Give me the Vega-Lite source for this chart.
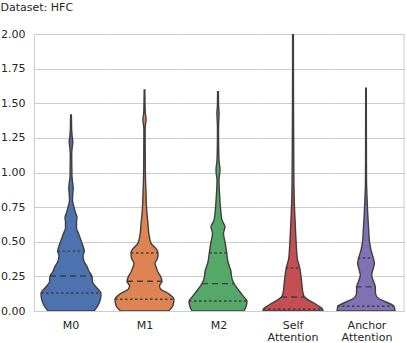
{
  "$schema": "https://vega.github.io/schema/vega-lite/v6.json",
  "padding": {"left": 0, "top": 2, "right": 0, "bottom": 0},
  "bounds": "flush",
  "title": {"text": "Dataset: HFC", "anchor": "start", "fontSize": 11, "fontWeight": "normal", "color": "#262626", "font": "DejaVu Sans", "offset": 15},
  "config": {
    "view": {"stroke": null},
    "font": "DejaVu Sans",
    "axis": {"labelFont": "DejaVu Sans", "labelFontSize": 11, "labelColor": "#262626", "gridColor": "#cccccc", "domainColor": "#cccccc", "ticks": false, "labelOverlap": false},
    "axisY": {"values": [0, 0.25, 0.5, 0.75, 1, 1.25, 1.5, 1.75, 2], "format": ".2f", "labelPadding": 9, "title": null, "labelOverlap": false, "grid": true}
  },
  "data": {"values": [
    {"model": "M0", "kind": "kde", "value": 0.00, "density": 23},
    {"model": "M0", "kind": "kde", "value": 0.04, "density": 27},
    {"model": "M0", "kind": "kde", "value": 0.09, "density": 29.5},
    {"model": "M0", "kind": "kde", "value": 0.13, "density": 30},
    {"model": "M0", "kind": "kde", "value": 0.17, "density": 25.5},
    {"model": "M0", "kind": "kde", "value": 0.21, "density": 21.5},
    {"model": "M0", "kind": "kde", "value": 0.25, "density": 21},
    {"model": "M0", "kind": "kde", "value": 0.28, "density": 18.5},
    {"model": "M0", "kind": "kde", "value": 0.32, "density": 16},
    {"model": "M0", "kind": "kde", "value": 0.36, "density": 13},
    {"model": "M0", "kind": "kde", "value": 0.40, "density": 12},
    {"model": "M0", "kind": "kde", "value": 0.43, "density": 13.3},
    {"model": "M0", "kind": "kde", "value": 0.47, "density": 12},
    {"model": "M0", "kind": "kde", "value": 0.51, "density": 10},
    {"model": "M0", "kind": "kde", "value": 0.56, "density": 7.5},
    {"model": "M0", "kind": "kde", "value": 0.60, "density": 5.5},
    {"model": "M0", "kind": "kde", "value": 0.64, "density": 5.5},
    {"model": "M0", "kind": "kde", "value": 0.675, "density": 6},
    {"model": "M0", "kind": "kde", "value": 0.71, "density": 4.5},
    {"model": "M0", "kind": "kde", "value": 0.75, "density": 3},
    {"model": "M0", "kind": "kde", "value": 0.80, "density": 1.5},
    {"model": "M0", "kind": "kde", "value": 0.85, "density": 1.8},
    {"model": "M0", "kind": "kde", "value": 0.88, "density": 2.2},
    {"model": "M0", "kind": "kde", "value": 0.92, "density": 1.8},
    {"model": "M0", "kind": "kde", "value": 0.97, "density": 1.0},
    {"model": "M0", "kind": "kde", "value": 1.05, "density": 0.8},
    {"model": "M0", "kind": "kde", "value": 1.13, "density": 0.7},
    {"model": "M0", "kind": "kde", "value": 1.18, "density": 1.2},
    {"model": "M0", "kind": "kde", "value": 1.22, "density": 1.8},
    {"model": "M0", "kind": "kde", "value": 1.26, "density": 1.2},
    {"model": "M0", "kind": "kde", "value": 1.32, "density": 0.6},
    {"model": "M0", "kind": "kde", "value": 1.38, "density": 0.5},
    {"model": "M0", "kind": "kde", "value": 1.415, "density": 0.3},
    {"model": "M0", "kind": "q1", "value": 0.13, "density": 30},
    {"model": "M0", "kind": "q2", "value": 0.253, "density": 21},
    {"model": "M0", "kind": "q3", "value": 0.432, "density": 13.3},

    {"model": "M1", "kind": "kde", "value": 0.00, "density": 24},
    {"model": "M1", "kind": "kde", "value": 0.04, "density": 28.5},
    {"model": "M1", "kind": "kde", "value": 0.085, "density": 29.5},
    {"model": "M1", "kind": "kde", "value": 0.12, "density": 25},
    {"model": "M1", "kind": "kde", "value": 0.16, "density": 16},
    {"model": "M1", "kind": "kde", "value": 0.18, "density": 15},
    {"model": "M1", "kind": "kde", "value": 0.215, "density": 17.5},
    {"model": "M1", "kind": "kde", "value": 0.25, "density": 16},
    {"model": "M1", "kind": "kde", "value": 0.28, "density": 13.5},
    {"model": "M1", "kind": "kde", "value": 0.32, "density": 11.5},
    {"model": "M1", "kind": "kde", "value": 0.345, "density": 10.5},
    {"model": "M1", "kind": "kde", "value": 0.38, "density": 13},
    {"model": "M1", "kind": "kde", "value": 0.42, "density": 13.5},
    {"model": "M1", "kind": "kde", "value": 0.45, "density": 11.5},
    {"model": "M1", "kind": "kde", "value": 0.49, "density": 6.5},
    {"model": "M1", "kind": "kde", "value": 0.56, "density": 4.3},
    {"model": "M1", "kind": "kde", "value": 0.63, "density": 3.5},
    {"model": "M1", "kind": "kde", "value": 0.70, "density": 2.5},
    {"model": "M1", "kind": "kde", "value": 0.75, "density": 2.0},
    {"model": "M1", "kind": "kde", "value": 0.85, "density": 1.5},
    {"model": "M1", "kind": "kde", "value": 0.95, "density": 1.0},
    {"model": "M1", "kind": "kde", "value": 1.05, "density": 0.8},
    {"model": "M1", "kind": "kde", "value": 1.19, "density": 0.7},
    {"model": "M1", "kind": "kde", "value": 1.30, "density": 0.6},
    {"model": "M1", "kind": "kde", "value": 1.34, "density": 0.9},
    {"model": "M1", "kind": "kde", "value": 1.384, "density": 1.6},
    {"model": "M1", "kind": "kde", "value": 1.43, "density": 0.8},
    {"model": "M1", "kind": "kde", "value": 1.50, "density": 0.5},
    {"model": "M1", "kind": "kde", "value": 1.596, "density": 0.3},
    {"model": "M1", "kind": "q1", "value": 0.085, "density": 29.5},
    {"model": "M1", "kind": "q2", "value": 0.215, "density": 17.5},
    {"model": "M1", "kind": "q3", "value": 0.419, "density": 13.5},

    {"model": "M2", "kind": "kde", "value": 0.00, "density": 26},
    {"model": "M2", "kind": "kde", "value": 0.03, "density": 28},
    {"model": "M2", "kind": "kde", "value": 0.072, "density": 29},
    {"model": "M2", "kind": "kde", "value": 0.10, "density": 26},
    {"model": "M2", "kind": "kde", "value": 0.15, "density": 20.7},
    {"model": "M2", "kind": "kde", "value": 0.198, "density": 16},
    {"model": "M2", "kind": "kde", "value": 0.234, "density": 14},
    {"model": "M2", "kind": "kde", "value": 0.294, "density": 12.7},
    {"model": "M2", "kind": "kde", "value": 0.354, "density": 10},
    {"model": "M2", "kind": "kde", "value": 0.419, "density": 8.7},
    {"model": "M2", "kind": "kde", "value": 0.487, "density": 7.3},
    {"model": "M2", "kind": "kde", "value": 0.56, "density": 5.5},
    {"model": "M2", "kind": "kde", "value": 0.608, "density": 7},
    {"model": "M2", "kind": "kde", "value": 0.656, "density": 4},
    {"model": "M2", "kind": "kde", "value": 0.728, "density": 2.7},
    {"model": "M2", "kind": "kde", "value": 0.824, "density": 1.7},
    {"model": "M2", "kind": "kde", "value": 0.945, "density": 1},
    {"model": "M2", "kind": "kde", "value": 1.017, "density": 2},
    {"model": "M2", "kind": "kde", "value": 1.09, "density": 1},
    {"model": "M2", "kind": "kde", "value": 1.20, "density": 0.6},
    {"model": "M2", "kind": "kde", "value": 1.31, "density": 0.5},
    {"model": "M2", "kind": "kde", "value": 1.38, "density": 0.8},
    {"model": "M2", "kind": "kde", "value": 1.427, "density": 1.1},
    {"model": "M2", "kind": "kde", "value": 1.48, "density": 0.6},
    {"model": "M2", "kind": "kde", "value": 1.584, "density": 0.4},
    {"model": "M2", "kind": "q1", "value": 0.072, "density": 29},
    {"model": "M2", "kind": "q2", "value": 0.198, "density": 16},
    {"model": "M2", "kind": "q3", "value": 0.419, "density": 8.7},

    {"model": "Self Attention", "kind": "kde", "value": 0.00, "density": 30},
    {"model": "Self Attention", "kind": "kde", "value": 0.013, "density": 29.5},
    {"model": "Self Attention", "kind": "kde", "value": 0.03, "density": 27},
    {"model": "Self Attention", "kind": "kde", "value": 0.053, "density": 22},
    {"model": "Self Attention", "kind": "kde", "value": 0.077, "density": 16},
    {"model": "Self Attention", "kind": "kde", "value": 0.101, "density": 11.5},
    {"model": "Self Attention", "kind": "kde", "value": 0.13, "density": 10},
    {"model": "Self Attention", "kind": "kde", "value": 0.162, "density": 9.3},
    {"model": "Self Attention", "kind": "kde", "value": 0.234, "density": 8.3},
    {"model": "Self Attention", "kind": "kde", "value": 0.311, "density": 6.7},
    {"model": "Self Attention", "kind": "kde", "value": 0.379, "density": 4.3},
    {"model": "Self Attention", "kind": "kde", "value": 0.475, "density": 3.3},
    {"model": "Self Attention", "kind": "kde", "value": 0.62, "density": 2.3},
    {"model": "Self Attention", "kind": "kde", "value": 0.788, "density": 1.3},
    {"model": "Self Attention", "kind": "kde", "value": 0.95, "density": 0.9},
    {"model": "Self Attention", "kind": "kde", "value": 1.2, "density": 0.7},
    {"model": "Self Attention", "kind": "kde", "value": 1.5, "density": 0.5},
    {"model": "Self Attention", "kind": "kde", "value": 1.8, "density": 0.4},
    {"model": "Self Attention", "kind": "kde", "value": 2.05, "density": 0.4},
    {"model": "Self Attention", "kind": "q1", "value": 0.013, "density": 29.5},
    {"model": "Self Attention", "kind": "q2", "value": 0.101, "density": 11.5},
    {"model": "Self Attention", "kind": "q3", "value": 0.311, "density": 6.7},

    {"model": "Anchor Attention", "kind": "kde", "value": 0.00, "density": 29},
    {"model": "Anchor Attention", "kind": "kde", "value": 0.034, "density": 28},
    {"model": "Anchor Attention", "kind": "kde", "value": 0.065, "density": 20},
    {"model": "Anchor Attention", "kind": "kde", "value": 0.09, "density": 12.5},
    {"model": "Anchor Attention", "kind": "kde", "value": 0.126, "density": 9.5},
    {"model": "Anchor Attention", "kind": "kde", "value": 0.174, "density": 9.3},
    {"model": "Anchor Attention", "kind": "kde", "value": 0.21, "density": 7.7},
    {"model": "Anchor Attention", "kind": "kde", "value": 0.258, "density": 5.7},
    {"model": "Anchor Attention", "kind": "kde", "value": 0.30, "density": 7},
    {"model": "Anchor Attention", "kind": "kde", "value": 0.343, "density": 8.3},
    {"model": "Anchor Attention", "kind": "kde", "value": 0.383, "density": 7.3},
    {"model": "Anchor Attention", "kind": "kde", "value": 0.44, "density": 5},
    {"model": "Anchor Attention", "kind": "kde", "value": 0.512, "density": 3.3},
    {"model": "Anchor Attention", "kind": "kde", "value": 0.584, "density": 2.7},
    {"model": "Anchor Attention", "kind": "kde", "value": 0.704, "density": 1.7},
    {"model": "Anchor Attention", "kind": "kde", "value": 0.824, "density": 1},
    {"model": "Anchor Attention", "kind": "kde", "value": 0.945, "density": 0.5},
    {"model": "Anchor Attention", "kind": "kde", "value": 1.2, "density": 0.4},
    {"model": "Anchor Attention", "kind": "kde", "value": 1.608, "density": 0.3},
    {"model": "Anchor Attention", "kind": "q1", "value": 0.034, "density": 28},
    {"model": "Anchor Attention", "kind": "q2", "value": 0.174, "density": 9.3},
    {"model": "Anchor Attention", "kind": "q3", "value": 0.383, "density": 7.3}
  ]},
  "facet": {
    "column": {
      "field": "model", "type": "nominal",
      "sort": ["M0", "M1", "M2", "Self Attention", "Anchor Attention"],
      "header": {"title": null, "labelOrient": "bottom", "labelFont": "DejaVu Sans", "labelFontSize": 11, "labelColor": "#262626", "labelPadding": 9, "labelBaseline": "top", "labelLineHeight": 12, "labelExpr": "split(datum.value, ' ')"}
    }
  },
  "spacing": 0,
  "spec": {
    "width": 74,
    "height": 277,
    "layer": [
      {
        "transform": [
          {"filter": "datum.kind == 'kde'"},
          {"stack": "density", "groupby": ["model", "value"], "offset": "center", "as": ["lo", "hi"]}
        ],
        "mark": {"type": "area", "orient": "horizontal", "stroke": "#3f3f3f", "strokeWidth": 1.4, "interpolate": "monotone", "clip": true, "fillOpacity": 1},
        "encoding": {
          "y": {"field": "value", "type": "quantitative", "scale": {"domain": [0, 2], "nice": false}, "axis": {"title": null, "values": [0, 0.25, 0.5, 0.75, 1, 1.25, 1.5, 1.75, 2], "format": ".2f", "labelOverlap": false}},
          "x": {"field": "lo", "type": "quantitative", "scale": {"domain": [-3.5, 33.5], "nice": false, "zero": false}, "axis": null},
          "x2": {"field": "hi"},
          "fill": {"field": "model", "type": "nominal", "scale": {"domain": ["M0", "M1", "M2", "Self Attention", "Anchor Attention"], "range": ["#4c72b0", "#dd8452", "#55a868", "#c44e52", "#8172b3"]}, "legend": null}
        }
      },
      {
        "transform": [
          {"filter": "datum.kind != 'kde'"},
          {"stack": "density", "groupby": ["model", "value"], "offset": "center", "as": ["lo", "hi"]}
        ],
        "mark": {"type": "rule", "stroke": "#3f3f3f", "strokeWidth": 1.4},
        "encoding": {
          "y": {"field": "value", "type": "quantitative", "axis": {"title": null, "values": [0, 0.25, 0.5, 0.75, 1, 1.25, 1.5, 1.75, 2], "format": ".2f", "labelOverlap": false}},
          "x": {"field": "lo", "type": "quantitative"},
          "x2": {"field": "hi"},
          "strokeDash": {"field": "kind", "type": "nominal", "scale": {"domain": ["q1", "q2", "q3"], "range": [[2.5, 2.5], [6, 4], [2.5, 2.5]]}, "legend": null}
        }
      },
      {
        "transform": [{"filter": "datum.model == 'Anchor Attention' && datum.kind == 'q2'"}],
        "mark": {"type": "rule", "stroke": "#cccccc", "strokeWidth": 1},
        "encoding": {"x": {"datum": 33.5}}
      }
    ]
  }
}
